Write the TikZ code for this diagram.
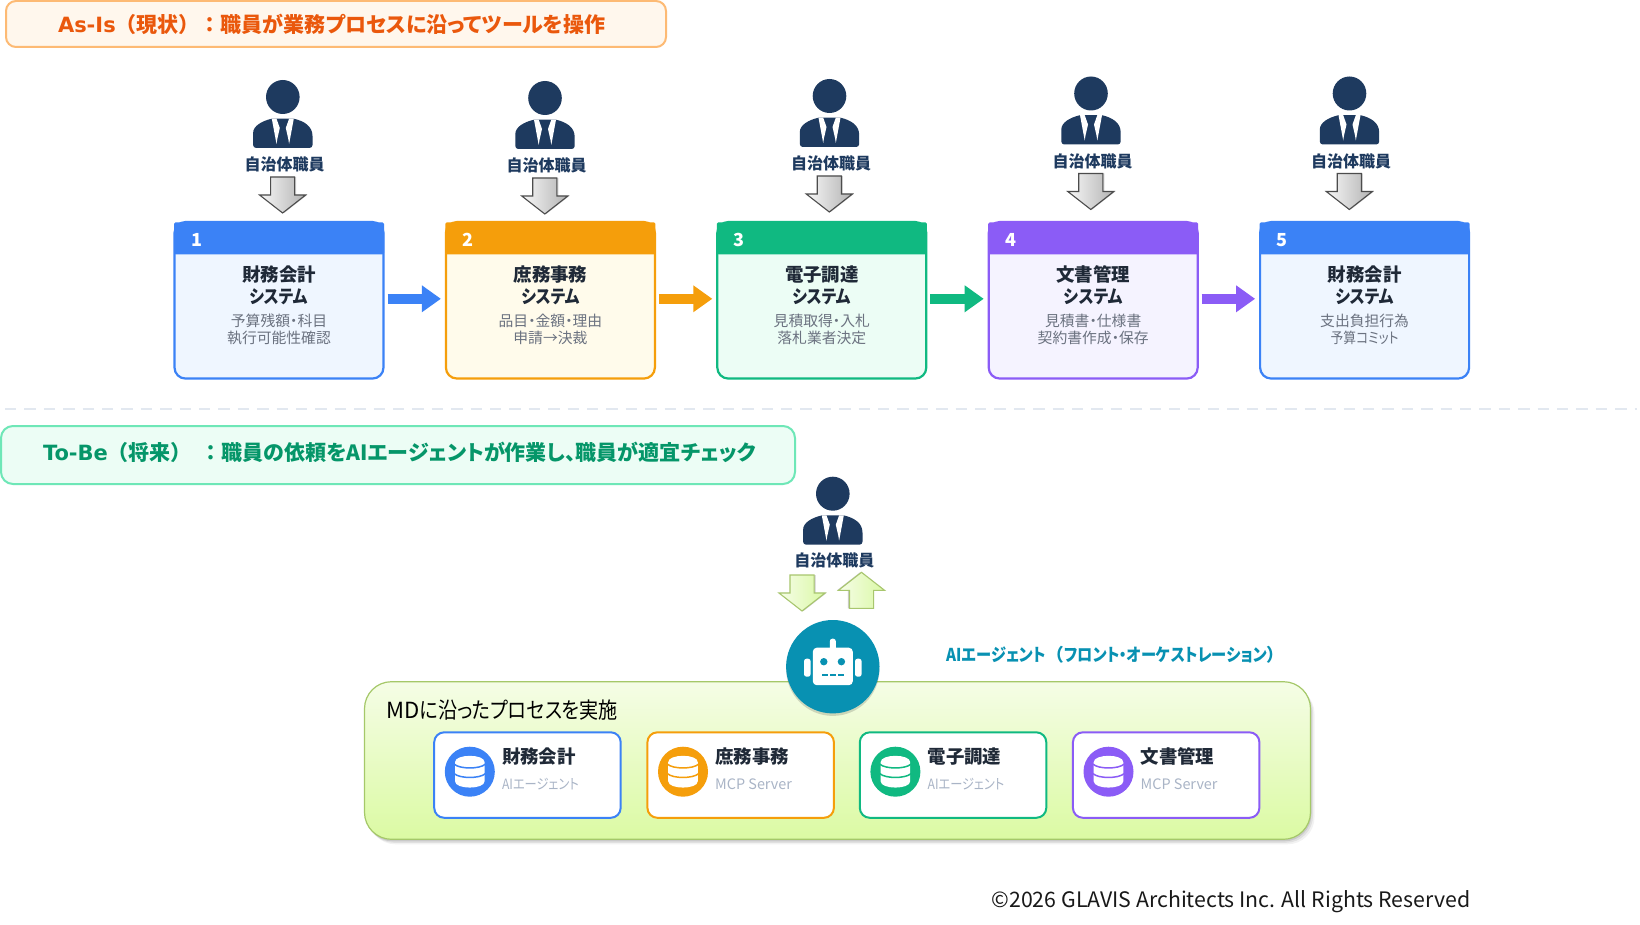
\documentclass[tikz,border=0pt]{standalone}
\usepackage{fontspec}
\setmainfont{Noto Sans CJK JP}[RawFeature=+palt]
\newfontfamily\fw{Noto Sans CJK JP}
\newfontfamily\nrw{Noto Sans CJK JP}[RawFeature=+palt,FakeStretch=.86]
\newfontfamily\lat{DejaVu Sans}
\usetikzlibrary{shapes.arrows,shadows,calc,arrows.meta}
\definecolor{cblue}{HTML}{3B82F6}\definecolor{corange}{HTML}{F59E0B}
\definecolor{cgreen}{HTML}{10B981}\definecolor{cpurple}{HTML}{8B5CF6}
\definecolor{lblue}{HTML}{EFF6FF}\definecolor{lorange}{HTML}{FFFBEB}
\definecolor{lgreen}{HTML}{ECFDF5}\definecolor{lpurple}{HTML}{F5F3FF}
\definecolor{navy}{HTML}{1E3A5F}\definecolor{ink}{HTML}{1F2937}
\definecolor{subgray}{HTML}{6B7280}\definecolor{palegray}{HTML}{A9B4C6}
\definecolor{teal}{HTML}{0891B2}\definecolor{rule}{HTML}{E2E8F0}
\newcommand{\fs}[1]{\fontsize{#1}{#1}\selectfont}
\tikzset{
  base/.style={inner sep=0pt,outer sep=0pt},
  stepbox/.style={base,draw=#1,line width=2.2pt,rounded corners=11pt,minimum width=209pt,minimum height=156.5pt},
  stephead/.style={base,fill=#1,minimum width=210pt,minimum height=32pt,rounded corners=1.5pt},
  stepnum/.style={base,text=white,font=\fs{18}\bfseries},
  steptitle/.style={base,align=center,text=ink,font=\fontsize{18.4}{21.7}\selectfont\bfseries},
  stepsub/.style={base,align=center,text=subgray,font=\fontsize{14.8}{17.6}\selectfont},
  stafflabel/.style={base,text=navy,font=\fs{16}\bfseries},
  flowarrow/.style={draw=#1,line width=10.6pt,-{Triangle[length=19pt,width=25.6pt]},shorten <=4pt,shorten >=5pt},
  blockshape/.style={inner xsep=0pt,inner ysep=11.5pt,outer sep=0pt,single arrow,anchor=tail,minimum height=36pt,minimum width=45pt,
     single arrow head extend=11pt,single arrow tip angle=104,line width=1.1pt},
  blockdown/.style={blockshape,rotate=-90},
  blockup/.style={blockshape,rotate=90},
  arrowshadow/.style={drop shadow={shadow xshift=1.5pt,shadow yshift=0pt,opacity=.2,fill=black}},
  graycol/.style={draw=black!70,left color=white!97!black,right color=black!30,arrowshadow},
  person/.pic={
    \fill[navy] (0,0) ellipse [x radius=16.8pt,y radius=17pt];
    \fill[navy,rounded corners=3pt] (-29.7,51) -- (-29.7,39) [sharp corners] .. controls (-29.7,29) and (-21,24) .. (-11,21.7)
       -- (11,21.7) .. controls (21,24) and (29.7,29) .. (29.7,39) [rounded corners=3pt] -- (29.7,51) -- cycle;
    \fill[white] (-11,21.7) -- (-6.3,21.7) -- (-3,31) -- (-5.5,42) -- (-6.3,47) -- cycle;
    \fill[white] (11,21.7) -- (6.3,21.7) -- (3,31) -- (5.5,42) -- (6.3,47) -- cycle;
  },
  dbicon/.pic={
    \fill[white] (-14.8,-9.5) .. controls (-14.8,-18) and (14.8,-18) .. (14.8,-9.5) -- (14.8,9.5)
       .. controls (14.8,18) and (-14.8,18) .. (-14.8,9.5) -- cycle;
    \draw[pic actions,line width=1.5pt] (-15.5,-7.5) .. controls (-10,-2.5) and (10,-2.5) .. (15.5,-7.5);
    \draw[pic actions,line width=1.5pt] (-15.5,2) .. controls (-10,7) and (10,7) .. (15.5,2);
  },
}
\newcommand{\stepcard}[7]{% index, left x, colour, light, title, sub1, sub2
  \node[stepbox=#3,fill=#4] (s#1) at (#2+104.5,300.3) {};
  \node[stephead=#3] (h#1) at (#2+104.5,238.3) {};
  \node[stepnum] (n#1) at (#2+22,240) {#1};
  \node[steptitle] (t#1) at (#2+104.5,285) {#5\\{\nrw システム}};
  \node[stepsub] (d#1) at (#2+104.5,329.5) {#6\\#7};
}
\newcommand{\staff}[3]{% index, head x, head y
  \pic at (#2,#3) {person};
  \node[stafflabel] (p#1) at (#2+1.7,#3+67.5) {自治体職員};
  \node[blockdown,graycol] (g#1) at (#2-0.2,#3+80) {};
}
\newcommand{\svc}[6]{% index, left x, colour, title, sub, size
  \node[base,draw=#3,line width=2pt,rounded corners=10pt,fill=white,minimum width=186.5pt,minimum height=85.5pt,anchor=north west] (b#1) at (#2,732.3) {};
  \node[base,circle,fill=#3,minimum size=50pt] (c#1) at (#2+35.6,771.7) {};
  \pic[#3] at (c#1.center) {dbicon};
  \node[base,anchor=west,text=ink,font=\fs{18.4}\bfseries] (x#1) at (#2+67.8,756.7) {#4};
  \node[base,anchor=west,text=palegray,font=\fs{#6}] (y#1) at (#2+67.8,784) {#5};
}
\begin{document}
\begin{tikzpicture}[x=1pt,y=-1pt]
\useasboundingbox (0,0) rectangle (1640,925);
\fill[white] (0,0) rectangle (1640,925);

% As-Is header
\node[base,draw={rgb,255:red,253;green,186;blue,116},line width=2pt,fill={rgb,255:red,255;green,247;blue,237},rounded corners=10pt,minimum width=660pt,minimum height=46pt] (hdra) at (336,24) {};
\node[base,anchor=west,text={rgb,255:red,234;green,88;blue,12},font=\fs{21}\bfseries] (hdrat) at (58,24.5) {{\lat\bfseries As-Is}{\fw （現状）：}職員が業務プロセスに沿ってツールを操作};

% Cards
\stepcard{1}{174.5}{cblue}{lblue}{財務会計}{予算残額・科目}{執行可能性確認}
\stepcard{2}{445.9}{corange}{lorange}{庶務事務}{品目・金額・理由}{申請→決裁}
\stepcard{3}{717.3}{cgreen}{lgreen}{電子調達}{見積取得・入札}{落札業者決定}
\stepcard{4}{988.7}{cpurple}{lpurple}{文書管理}{見積書・仕様書}{契約書作成・保存}
\stepcard{5}{1260.1}{cblue}{lblue}{財務会計}{支出負担行為}{{\nrw 予算コミット}}

\draw[flowarrow=cblue] ([yshift=1.5pt]s1.east) -- ([yshift=1.5pt]s2.west);
\draw[flowarrow=corange] ([yshift=1.5pt]s2.east) -- ([yshift=1.5pt]s3.west);
\draw[flowarrow=cgreen] ([yshift=1.5pt]s3.east) -- ([yshift=1.5pt]s4.west);
\draw[flowarrow=cpurple] ([yshift=1.5pt]s4.east) -- ([yshift=1.5pt]s5.west);

% Staff
\staff{1}{282.8}{97}
\staff{2}{545}{98}
\staff{3}{829.5}{96}
\staff{4}{1091}{93.5}
\staff{5}{1349.5}{93.5}

% Divider
\coordinate (dl) at (1201,409);\coordinate (dlstart) at (5,409);\coordinate (dr) at (1637,409);
\draw[rule,line width=2.4pt,dash pattern=on 11.4pt off 8pt] (dlstart) -- (dr);

% To-Be header
\node[base,draw={rgb,255:red,110;green,231;blue,183},line width=2pt,fill=lgreen,rounded corners=12pt,minimum width=794pt,minimum height=58pt] (hdrb) at (398,455) {};
\node[base,anchor=west,text={rgb,255:red,5;green,150;blue,105},font=\fs{21}\bfseries] (hdrbt) at (43,452.5) {{\lat\bfseries To-Be}{\fw （将来）\hspace{9pt}：}職員の依頼をAIエージェントが作業し、職員が適宜チェック};

% Process panel
\foreach \d/\o in {5/.05,3.5/.07,2/.1}
  \fill[black,opacity=\o,rounded corners=27pt] (364.5+\d-1,681.7+\d) rectangle (1310.5+\d-1,839.3+\d);
\node[base,draw={rgb,255:red,165;green,200;blue,105},line width=1.2pt,rounded corners=27pt,top color={rgb,255:red,245;green,253;blue,230},bottom color={rgb,255:red,219;green,250;blue,163},minimum width=946pt,minimum height=157.6pt,anchor=north west] (panel) at (364.5,681.7) {};
\node[base,anchor=west,text=black,font=\fs{22.2}] (paneltxt) at (386.4,710) {MD{\nrw に沿ったプロセスを実施}};

\svc{1}{434.2}{cblue}{財務会計}{{\nrw AIエージェント}}{14.2}
\svc{2}{647.4}{corange}{庶務事務}{MCP Server}{14.4}
\svc{3}{859.8}{cgreen}{電子調達}{{\nrw AIエージェント}}{14.2}
\svc{4}{1072.9}{cpurple}{文書管理}{MCP Server}{14.4}

% Central staff and agent
\pic at (832.8,493.7) {person};
\node[stafflabel] (p0) at (834.3,560.7) {自治体職員};
\node[blockdown,draw={rgb,255:red,168;green,198;blue,110},left color={rgb,255:red,246;green,253;blue,232},right color={rgb,255:red,218;green,248;blue,165},arrowshadow] (down0) at (802,575) {};
\node[blockup,draw={rgb,255:red,168;green,198;blue,110},right color={rgb,255:red,218;green,248;blue,165},left color={rgb,255:red,246;green,253;blue,232},drop shadow={shadow xshift=-1.5pt,shadow yshift=0pt,opacity=.2,fill=black}] (up0) at (861.5,608.3) {};

\node[base,circle,fill=teal,minimum size=93.4pt,drop shadow={shadow xshift=0pt,shadow yshift=-2.5pt,opacity=.15,fill=black}] (agent) at (832.8,666.7) {};
\begin{scope}[shift={(agent.center)}]
  \fill[white,rounded corners=4pt] (-20,-19) rectangle (20,18.5);
  \fill[white,rounded corners=2.5pt] (-3,-28) rectangle (3,-15);
  \fill[white,rounded corners=2.5pt] (-28.8,-8) rectangle (-22.2,10);
  \fill[white,rounded corners=2.5pt] (22.2,-8) rectangle (28.8,10);
  \fill[teal] (-9,-5) circle[radius=3.7pt];
  \fill[teal] (8.6,-5) circle[radius=3.7pt];
  \fill[teal] (-11,7) rectangle (-5,9);
  \fill[teal] (-3,7) rectangle (3,9);
  \fill[teal] (5,7) rectangle (11,9);
\end{scope}
\node[base,anchor=west,text=teal,font=\fs{17.7}\bfseries] (agentlbl) at (946.8,655) {{\nrw\bfseries AIエージェント}{\fw （}{\nrw\bfseries フロント・オーケストレーション}{\fw ）}};

% Copyright
\node[base,anchor=east,text=black!90,font=\fs{21.3}] (copy) at (1470.4,902) {©2026 GLAVIS Architects Inc. All Rights Reserved};
\end{tikzpicture}
\end{document}
